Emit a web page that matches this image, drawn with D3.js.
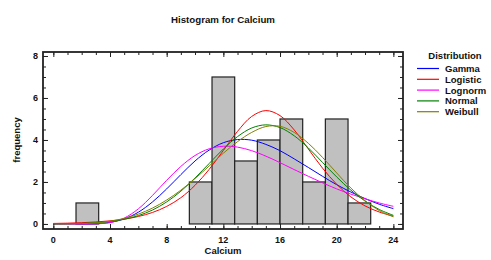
<!DOCTYPE html>
<html>
<head>
<meta charset="utf-8">
<script src="https://cdn.jsdelivr.net/npm/d3@7"></script>
<style>
  body { margin: 0; background: #fff; }
  svg { display: block; font-family: "Liberation Sans", Arial, sans-serif; }
  text { font-weight: bold; fill: #111; }
</style>
</head>
<body>
<svg id="chart" width="491" height="260"></svg>
<script>
// ---- data ----
const binEdgesLow = [1.6, 9.6, 11.2, 12.8, 14.4, 16.0, 17.6, 19.2, 20.8];
const binWidth = 1.6;
const binCounts = [1, 2, 7, 3, 4, 5, 2, 5, 1];

const curveX = [0,1,2,3,4,5,6,7,8,9,10,11,12,13,14,15,16,17,18,19,20,21,22,23,24];
const gammaY     = [0,0,0.001,0.013,0.072,0.24,0.56,1.05,1.67,2.35,3.0,3.52,3.87,4.02,3.99,3.79,3.49,3.10,2.69,2.27,1.87,1.52,1.21,0.94,0.73];
const logisticY  = [0.025,0.039,0.060,0.095,0.148,0.230,0.356,0.548,0.836,1.25,1.84,2.60,3.50,4.41,5.12,5.40,5.16,4.48,3.57,2.66,1.89,1.29,0.86,0.57,0.37];
const lognormalY = [0,0,0.0001,0.006,0.065,0.28,0.72,1.36,2.08,2.74,3.26,3.58,3.70,3.66,3.49,3.23,2.92,2.59,2.27,1.96,1.67,1.42,1.20,1.00,0.84];
const normalY    = [0.005,0.012,0.027,0.058,0.117,0.222,0.396,0.664,1.05,1.56,2.19,2.88,3.57,4.16,4.57,4.72,4.59,4.20,3.62,2.93,2.24,1.61,1.09,0.69,0.41];
const weibullY   = [0,0.0015,0.014,0.052,0.129,0.265,0.469,0.757,1.14,1.61,2.16,2.76,3.37,3.92,4.36,4.64,4.65,4.36,3.84,3.17,2.43,1.71,1.11,0.64,0.34];

// legend labels as they appear in the reference (the last letters of "Lognormal" fall outside the image there)
const seriesNames  = ["Gamma", "Logistic", "Lognorm", "Normal", "Weibull"];
const seriesColors = ["#0000ff", "#ff0000", "#ff00ff", "#008000", "#808000"];
const seriesValues = [gammaY, logisticY, lognormalY, normalY, weibullY];

const xTicks = [0, 4, 8, 12, 16, 20, 24];
const yTicks = [0, 2, 4, 6, 8];

// ---- layout ----
const svg = d3.select("#chart");
const L = 43, R = 403, T = 52, B = 229;
const x = d3.scaleLinear().domain([-0.73, 24.68]).range([L, R]);
const y = d3.scaleLinear().domain([-0.24, 8.19]).range([B, T]);

// title
svg.append("text").attr("x", 223).attr("y", 23).attr("text-anchor", "middle")
  .attr("font-size", 9.7).text("Histogram for Calcium");

// bars
const bars = binEdgesLow.map((lo, i) => ({lo, hi: lo + binWidth, c: binCounts[i]}));
svg.append("g").selectAll("rect").data(bars).join("rect")
  .attr("x", d => x(d.lo)).attr("y", d => y(d.c))
  .attr("width", d => x(d.hi) - x(d.lo)).attr("height", d => y(0) - y(d.c))
  .attr("fill", "#c0c0c0").attr("stroke", "#222").attr("stroke-width", 1.2);

// curves
const line = d3.line().x((d, i) => x(curveX[i])).y(d => y(d)).curve(d3.curveCatmullRom);
svg.append("clipPath").attr("id", "pc").append("rect")
  .attr("x", L).attr("y", T).attr("width", R - L).attr("height", B - T);
const cg = svg.append("g").attr("clip-path", "url(#pc)");
seriesValues.forEach((vals, k) => {
  cg.append("path").datum(vals).attr("d", line).attr("fill", "none")
    .attr("stroke", seriesColors[k]).attr("stroke-width", 1);
});

// axes (inward ticks on all four sides)
const axisG = svg.append("g");
function tickSet(axisFn, scale, values, size, transform) {
  const a = axisFn(scale).tickValues(values).tickSize(size).tickFormat("");
  const g = axisG.append("g").attr("transform", transform).call(a);
  g.select(".domain").remove();
  g.selectAll("line").attr("stroke", "#222").attr("stroke-width", 1);
  return g;
}
const xMinor = d3.range(0, 25, 1);
const yMinor = d3.range(0, 8.01, 0.5);
tickSet(d3.axisTop, x, xMinor, 3, `translate(0,${B})`);
tickSet(d3.axisTop, x, xTicks, 5, `translate(0,${B})`);
tickSet(d3.axisBottom, x, xMinor, 3, `translate(0,${T})`);
tickSet(d3.axisBottom, x, xTicks, 5, `translate(0,${T})`);
tickSet(d3.axisRight, y, yMinor, 3, `translate(${L},0)`);
tickSet(d3.axisRight, y, yTicks, 5, `translate(${L},0)`);
tickSet(d3.axisLeft, y, yMinor, 3, `translate(${R},0)`);
tickSet(d3.axisLeft, y, yTicks, 5, `translate(${R},0)`);

// frame
svg.append("rect").attr("x", L).attr("y", T).attr("width", R - L).attr("height", B - T)
  .attr("fill", "none").attr("stroke", "#222").attr("stroke-width", 1.8);

// tick labels
svg.append("g").selectAll("text").data(xTicks).join("text")
  .attr("x", d => x(d)).attr("y", 243).attr("text-anchor", "middle")
  .attr("font-size", 9).text(d => d);
svg.append("g").selectAll("text").data(yTicks).join("text")
  .attr("x", 38).attr("y", d => y(d) + 3.3).attr("text-anchor", "end")
  .attr("font-size", 9).text(d => d);

// axis titles
svg.append("text").attr("x", 223).attr("y", 254).attr("text-anchor", "middle")
  .attr("font-size", 9.5).text("Calcium");
svg.append("text").attr("transform", "translate(20,140) rotate(-90)")
  .attr("text-anchor", "middle").attr("font-size", 9.5).text("frequency");

// legend
svg.append("text").attr("x", 455).attr("y", 59).attr("text-anchor", "middle")
  .attr("font-size", 9.5).text("Distribution");
const lg = svg.append("g").selectAll("g").data(seriesNames).join("g")
  .attr("transform", (d, i) => `translate(0,${68.5 + i * 10.8})`);
lg.append("line").attr("x1", 417).attr("x2", 439).attr("y1", 0).attr("y2", 0)
  .attr("stroke", (d, i) => seriesColors[i]).attr("stroke-width", 1.2);
lg.append("text").attr("x", 445).attr("y", 3.4).attr("font-size", 9.5).text(d => d);
</script>
</body>
</html>
